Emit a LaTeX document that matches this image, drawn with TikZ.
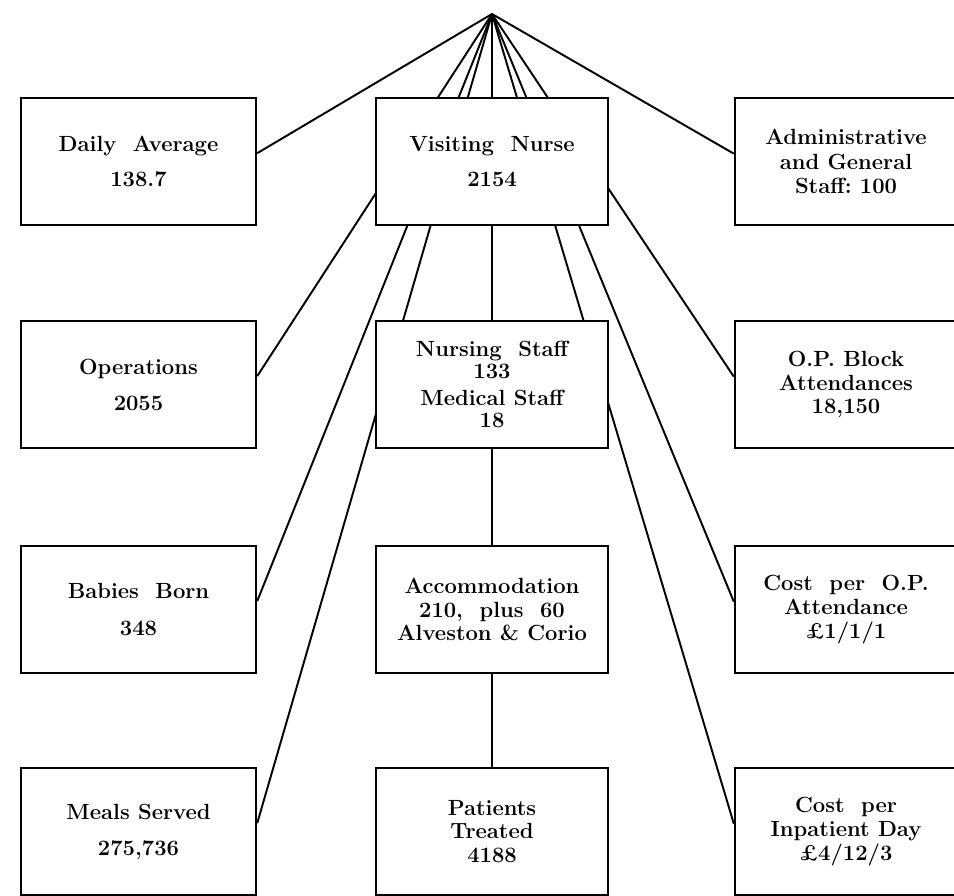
\documentclass[tikz,border=0pt]{standalone}
\usetikzlibrary{backgrounds}
\tikzset{
  statbox/.style={draw, line width=1.4pt, fill=white, align=center, inner sep=0pt,
    minimum height=2.54cm, font=\fontsize{12.5}{13.5}\selectfont\bfseries},
  leftbox/.style={statbox, minimum width=4.7cm},
  midbox/.style={statbox, minimum width=4.64cm},
  rightbox/.style={statbox, minimum width=4.44cm},
  link/.style={line width=1.1pt}
}
\begin{document}
\begin{tikzpicture}[x=0.02cm, y=-0.02cm]
    \useasboundingbox (0,0) rectangle (954,896);
    \coordinate (apex) at (492,14);
    \node[leftbox] (da) at (138.5,161.5) {Daily\ \ Average\\[6pt]138.7};
    \node[midbox] (vn) at (492,161.5) {Visiting\ \ Nurse\\[6pt]2154};
    \node[rightbox] (adm) at (846,161.5) {Administrative\\[0.5pt]and General\\[0.5pt]Staff:\ 100};
    \node[leftbox] (op) at (138.5,384.5) {Operations\\[7pt]2055};
    \node[midbox] (ns) at (492,384.5) {Nursing\ \ Staff\\[-1pt]133\\[1.5pt]Medical Staff\\[-1pt]18};
    \node[rightbox] (opb) at (846,384.5) {O.P.\ Block\\Attendances\\18,150};
    \node[leftbox] (bb) at (138.5,609.5) {Babies\ \ Born\\[7pt]348};
    \node[midbox] (acc) at (492,609.5) {Accommodation\\210,\ \ plus\ \ 60\\Alveston \& Corio};
    \node[rightbox] (cop) at (846,609.5) {Cost\ \ per\ \ O.P.\\Attendance\\\pounds1/1/1};
    \node[leftbox] (ms) at (138.5,831.5) {Meals Served\\[7pt]275,736};
    \node[midbox] (pt) at (492,831.5) {Patients\\Treated\\4188};
    \node[rightbox] (cid) at (846,831.5) {Cost\ \ per\\Inpatient Day\\\pounds4/12/3};
    \begin{pgfonlayer}{background}
        \fill[white] (0,0) rectangle (954,896);
        \draw[link] (apex) -- (da.4);
        \draw[link] (apex) -- (adm.176);
        \draw[link] (apex) -- (op.4);
        \draw[link] (apex) -- (opb.176);
        \draw[link] (apex) -- (bb.4);
        \draw[link] (apex) -- (cop.176);
        \draw[link] (apex) -- (ms.4);
        \draw[link] (apex) -- (cid.176);
        \draw[link] (apex) -- (pt.north);
    \end{pgfonlayer}
\end{tikzpicture}
\end{document}
